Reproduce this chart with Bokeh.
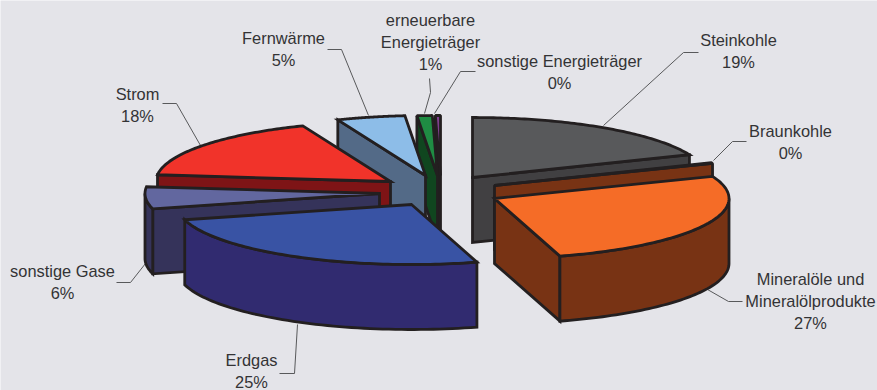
import numpy as np
from bokeh.plotting import figure
from bokeh.models import ColumnDataSource
from bokeh.core.properties import value
from bokeh.embed import file_html
from bokeh.resources import INLINE

# --- data ---
categories = ["Steinkohle", "Braunkohle", "Mineralöle und\nMineralölprodukte", "Erdgas",
              "sonstige Gase", "Strom", "Fernwärme", "erneuerbare\nEnergieträger",
              "sonstige Energieträger"]
shares = [18.8, 0.2, 26.5, 25.4, 5.9, 17.1, 4.7, 1.05, 0.35]
percent_labels = ["19%", "0%", "27%", "25%", "6%", "18%", "5%", "1%", "0%"]

# --- styling and layout of the exploded 3D pie ---
top_colors = ["#58595b", "#f56c27", "#f56c27", "#3953a4", "#62679f", "#f1332a", "#8dbde8", "#1f8c43", "#7f3f8f"]
wall_colors = ["#414042", "#783314", "#783314", "#312b70", "#35335a", "#7e1416", "#536a87", "#10461f", "#231f20"]
apex_x = [472, 494, 494, 411, 379, 390, 425, 437, 440]
apex_y = [177, 185, 198, 204, 193, 181, 175, 175, 175]
draw_order = [8, 7, 6, 5, 4, 3, 0, 1, 2]
label_x = [738, 790, 810, 251, 62, 137, 283, 430, 559]
label_y = [39, 130, 278, 359, 270, 93, 37, 19, 60]
leaders = [
    [(698, 52), (683, 52), (603, 125)],
    [(746, 141), (732, 141), (713, 160)],
    [(742, 301), (728, 301), (707, 289)],
    [(279, 373), (294, 373), (297, 324)],
    [(116, 282), (130, 282), (145, 263)],
    [(162, 103), (176, 103), (200, 145)],
    [(327, 49), (341, 49), (368, 115)],
    [(429, 78), (430, 92), (424, 113)],
    [(475, 71), (460, 71), (434, 113)],
]
RX, RY, DEPTH = 234.5, 60.0, 65.0
BG, INK = "#e4e4e9", "#231f20"
LW = 2.8

p = figure(width=877, height=390, x_range=(0, 877), y_range=(390, 0),
           output_backend="svg", toolbar_location=None, min_border=0,
           background_fill_color=BG, border_fill_color=BG, outline_line_color=None)
p.axis.visible = False
p.grid.visible = False

for pts in leaders:
    p.line([q[0] for q in pts], [q[1] for q in pts], line_color="#58595b", line_width=1)


def rim(ax, ay, deg):
    r = np.radians(deg)
    return ax + RX * np.sin(r), ay - RY * np.cos(r)


def shape(xs, ys, color, join):
    p.patch(list(xs), list(ys), fill_color=color, line_color=INK, line_width=LW, line_join=join)


cum = np.concatenate([[0], np.cumsum(shares)]) / np.sum(shares) * 360.0

for i in draw_order:
    a0, a1 = cum[i], cum[i + 1]
    ax, ay = apex_x[i], apex_y[i]
    col, wall = top_colors[i], wall_colors[i]
    join = "bevel" if shares[i] < 2 else "miter"
    # radial side faces turned towards the viewer
    if a0 > 180:
        x, y = rim(ax, ay, a0)
        shape([ax, x, x, ax], [ay, y, y + DEPTH, ay + DEPTH], wall, join)
    if a1 < 180:
        x, y = rim(ax, ay, a1)
        shape([ax, x, x, ax], [ay, y, y + DEPTH, ay + DEPTH], wall, join)
    # curved outer wall (front half only)
    w0, w1 = max(a0, 90), min(a1, 270)
    if w1 > w0:
        t = np.linspace(w0, w1, 60)
        x, y = rim(ax, ay, t)
        shape(np.r_[x, x[::-1]], np.r_[y, y[::-1] + DEPTH], wall, join)
    # top surface
    t = np.linspace(a0, a1, 80)
    x, y = rim(ax, ay, t)
    shape(np.r_[ax, x], np.r_[ay, y], col, join)

LINE = 22.3
tx, ty, tt = [], [], []
for name, pct, x0, y0 in zip(categories, percent_labels, label_x, label_y):
    for k, s in enumerate(name.split("\n") + [pct]):
        tx.append(x0)
        ty.append(y0 + k * LINE)
        tt.append(s)
p.text(x="x", y="y", text="t", source=ColumnDataSource(dict(x=tx, y=ty, t=tt)),
       text_font=value("Liberation Sans"), text_font_size="16.4px", text_color="#333335",
       text_align="center", text_baseline="middle")

open("out.html", "w").write(file_html(p, INLINE))
